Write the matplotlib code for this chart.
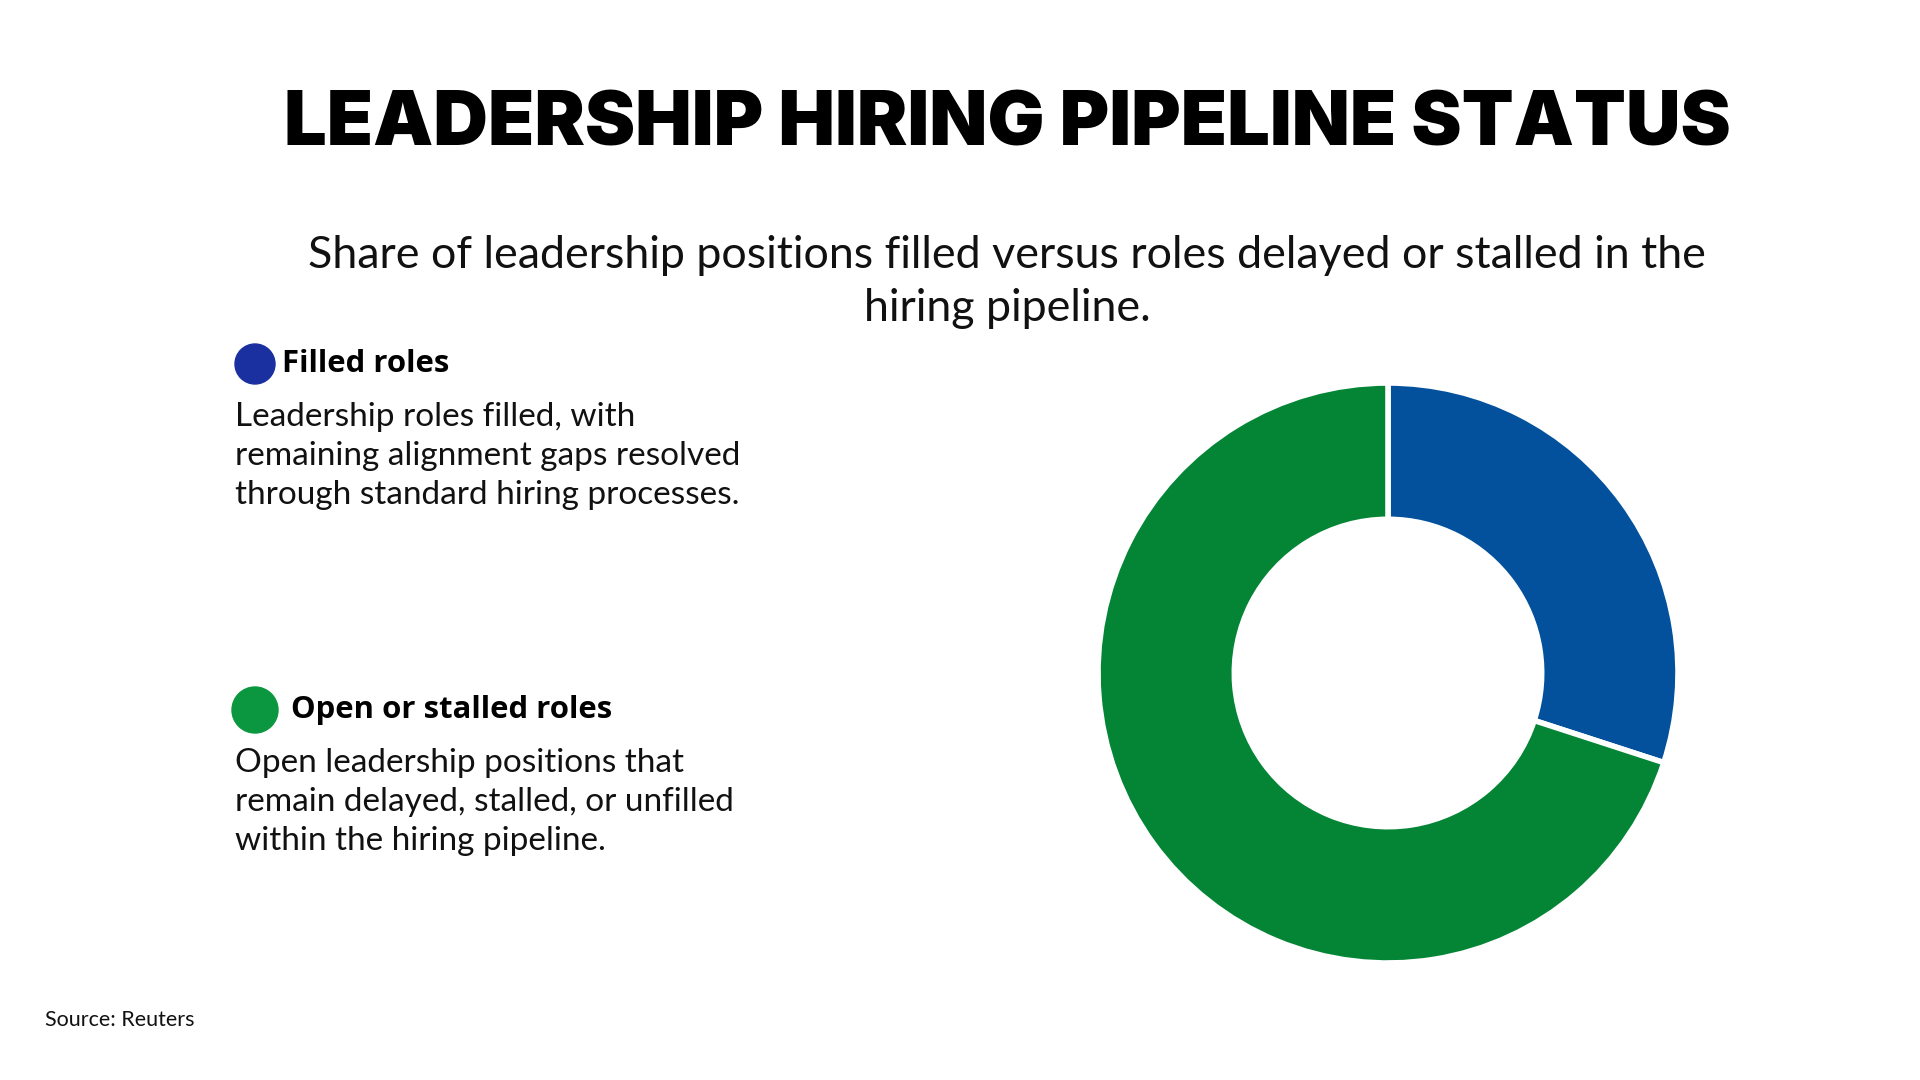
import matplotlib
matplotlib.use("Agg")
import matplotlib.pyplot as plt
from matplotlib.patches import Circle

# data
labels = ["Filled roles", "Open or stalled roles"]
shares = [30, 70]
wedge_colors = ["#03519c", "#038535"]
dot_colors = ["#1a30a0", "#0b973f"]
descriptions = [
    "Leadership roles filled, with\nremaining alignment gaps resolved\nthrough standard hiring processes.",
    "Open leadership positions that\nremain delayed, stalled, or unfilled\nwithin the hiring pipeline.",
]
title = "LEADERSHIP HIRING PIPELINE STATUS"
subtitle = "Share of leadership positions filled versus roles delayed or stalled in the\nhiring pipeline."
source = "Source: Reuters"

W, H = 1920, 1080
fig = plt.figure(figsize=(W / 100, H / 100), dpi=100)
fig.patch.set_facecolor("white")

# overlay in pixel coords
over = fig.add_axes([0, 0, 1, 1])
over.set_xlim(0, W)
over.set_ylim(H, 0)
over.axis("off")

over.text(1007, 126, title, ha="center", va="center", fontsize=54.5,
          fontweight="black", family="Inter", color="black")
over.text(1007, 282, subtitle, ha="center", va="center", fontsize=32.2,
          family="Lato", color="#111111", linespacing=1.35)

# legend blocks
legend_y = [364, 710]
dot_r = [20, 23]
label_x = [282, 291]
desc_y = [456, 802]
for i in range(2):
    over.add_patch(Circle((255, legend_y[i]), dot_r[i], color=dot_colors[i]))
    over.text(label_x[i], legend_y[i], labels[i], ha="left", va="center",
              fontsize=22.4, fontweight="bold", family="Open Sans", color="black")
    over.text(235, desc_y[i], descriptions[i], ha="left", va="center",
              fontsize=24, family="Lato", color="#111111", linespacing=1.37)

over.text(45, 1020, source, ha="left", va="center", fontsize=15.5,
          family="Lato", color="#111111")

# donut
cx, cy, R = 1388, 673, 290
box = 300
ax = fig.add_axes([(cx - box) / W, (H - cy - box) / H, 2 * box / W, 2 * box / H])
ax.pie(shares, colors=wedge_colors, startangle=90, counterclock=False,
       radius=1, wedgeprops=dict(width=0.47, edgecolor="white", linewidth=4))
ax.set_xlim(-box / R, box / R)
ax.set_ylim(-box / R, box / R)
ax.set_aspect("equal")
ax.axis("off")

fig.savefig("out.png", dpi=100, facecolor="white")
